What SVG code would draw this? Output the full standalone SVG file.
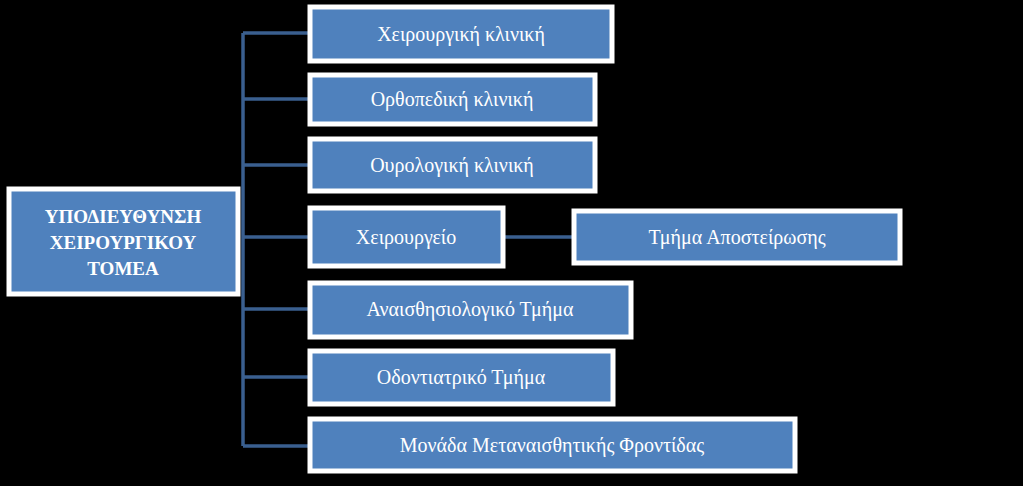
<svg xmlns="http://www.w3.org/2000/svg" width="1023" height="486" viewBox="0 0 1023 486">
<style>
.n{fill:#4f81bd;stroke:#fff;stroke-width:5}
.t{font-family:"Liberation Serif",serif;font-size:20px;fill:#fff;text-anchor:middle;dominant-baseline:central}
.b{font-weight:bold;font-size:19px}
.c{stroke:#3a5f8f;stroke-width:3.5;fill:none}
</style>
<rect width="1023" height="486" fill="#000"/>
<g id="connectors">
<path class="c" d="M243 33V446M243 33H310M243 99H310M243 165H310M243 237H310M243 309H310M243 377H310M243 446H310M505 237H574"/>
</g>
<g id="root"><rect class="n" x="9" y="189" width="229" height="105"/>
<text class="t b" x="123" y="216">ΥΠΟΔΙΕΥΘΥΝΣΗ</text><text class="t b" x="123" y="242">ΧΕΙΡΟΥΡΓΙΚΟΥ</text><text class="t b" x="123" y="268">ΤΟΜΕΑ</text></g>
<g id="n1"><rect class="n" x="310" y="7" width="302" height="54"/><text class="t" x="461" y="34">Χειρουργική κλινική</text></g>
<g id="n2"><rect class="n" x="310" y="75" width="285" height="49"/><text class="t" x="452" y="99">Ορθοπεδική κλινική</text></g>
<g id="n3"><rect class="n" x="310" y="139" width="285" height="52"/><text class="t" x="452" y="165">Ουρολογική κλινική</text></g>
<g id="n4"><rect class="n" x="310" y="208" width="193" height="58"/><text class="t" x="406" y="237">Χειρουργείο</text></g>
<g id="n4a"><rect class="n" x="574" y="211" width="326" height="52"/><text class="t" x="737" y="237">Τμήμα Αποστείρωσης</text></g>
<g id="n5"><rect class="n" x="310" y="283" width="321" height="54"/><text class="t" x="470" y="309">Αναισθησιολογικό Τμήμα</text></g>
<g id="n6"><rect class="n" x="310" y="351" width="303" height="53"/><text class="t" x="461" y="377">Οδοντιατρικό Τμήμα</text></g>
<g id="n7"><rect class="n" x="310" y="419" width="485" height="52"/><text class="t" x="552" y="445">Μονάδα Μεταναισθητικής Φροντίδας</text></g>
</svg>
